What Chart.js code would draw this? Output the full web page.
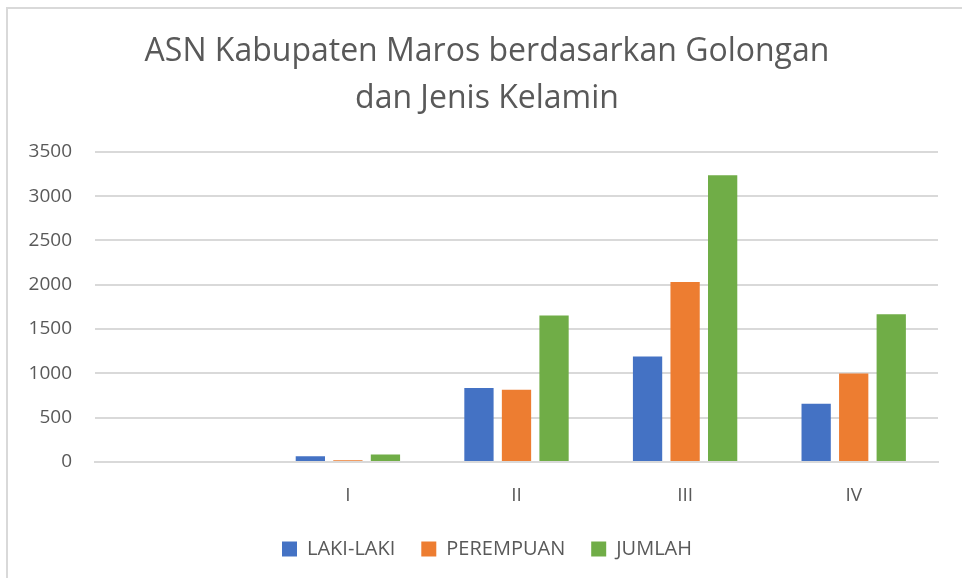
<!DOCTYPE html>
<html>
<head>
<meta charset="utf-8">
<script src="https://cdn.jsdelivr.net/npm/chart.js@4/dist/chart.umd.min.js"></script>
<style>
  html, body { margin: 0; padding: 0; background: #fff; }
  #wrap { position: absolute; left: 0; top: 0; width: 962px; height: 578px; }
  #frame { position: absolute; left: 6px; top: 7px; right: 0; bottom: 0; border-left: 2px solid #d9d9d9; border-top: 2px solid #d9d9d9; pointer-events: none; }
</style>
</head>
<body>
<div id="wrap"><canvas id="chart"></canvas></div>
<div id="frame"></div>
<script>
// ── DATA ──────────────────────────────────────────────────────────────────────
const golongan = ['', 'I', 'II', 'III', 'IV'];
const lakiLaki = [null, 65, 834, 1190, 656];
const perempuan = [null, 20, 815, 2031, 998];
const jumlah = [null, 84, 1652, 3235, 1667];

const FONT = "'Open Sans', sans-serif";
const TXT = '#595959';
const GRID = '#d9d9d9';

const ds = (label, data, color) => ({
  label, data,
  backgroundColor: color,
  borderWidth: 0,
  yAxisID: 'y',
  categoryPercentage: 0.668,
  barPercentage: 0.78
});

new Chart(document.getElementById('chart'), {
  type: 'bar',
  data: {
    labels: golongan,
    datasets: [
      ds('LAKI-LAKI', lakiLaki, '#4472C4'),
      ds('PEREMPUAN', perempuan, '#ED7D31'),
      ds('JUMLAH', jumlah, '#70AD47')
    ]
  },
  options: {
    responsive: true,
    maintainAspectRatio: false,
    animation: false,
    // left padding keeps title + legend centred where the reference has them
    layout: { padding: { left: 12, right: 0, top: 0, bottom: 9 } },
    plugins: {
      title: {
        display: true,
        text: ['ASN Kabupaten Maros berdasarkan Golongan', 'dan Jenis Kelamin'],
        color: TXT,
        font: { family: FONT, size: 32, weight: 'normal', lineHeight: 1.45 },
        padding: { top: 29, bottom: 30 }
      },
      legend: {
        position: 'bottom',
        labels: {
          color: TXT,
          font: { family: FONT, size: 20 },
          boxWidth: 15,
          boxHeight: 15,
          padding: 26
        }
      },
      tooltip: { enabled: false }
    },
    scales: {
      x: {
        grid: { display: false, drawTicks: false },
        border: { display: true, color: GRID, width: 2 },
        ticks: { color: TXT, font: { family: FONT, size: 19 }, padding: 22 },
        afterFit: s => { s.height = 51; }
      },
      y: {
        min: 0,
        max: 3500,
        grid: { color: GRID, lineWidth: 2, drawTicks: false },
        border: { display: false },
        ticks: {
          stepSize: 500,
          color: TXT,
          font: { family: FONT, size: 19 },
          padding: 23,
          callback: v => String(v)
        },
        afterFit: s => { s.width = 83; }
      },
      // empty spacer on the right, leaves the white margin after the plot
      pad: {
        position: 'right',
        grid: { display: false, drawTicks: false },
        border: { display: false },
        ticks: { display: false },
        afterFit: s => { s.width = 24; }
      }
    }
  }
});
</script>
</body>
</html>
